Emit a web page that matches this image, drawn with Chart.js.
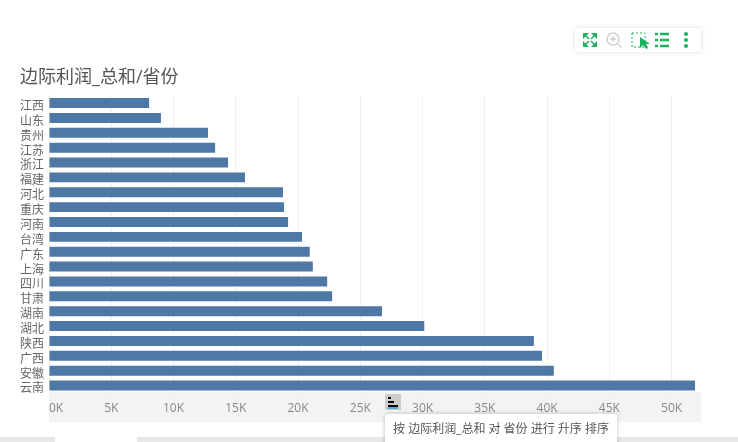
<!DOCTYPE html>
<html>
<head>
<meta charset="utf-8">
<script src="https://cdn.jsdelivr.net/npm/chart.js@4"></script>
<style>
	body { margin: 0; background: #fff; overflow: hidden; font-family: "Open Sans", "Noto Sans CJK SC", sans-serif; }
	#wrap { position: relative; width: 738px; height: 442px; overflow: hidden; }
	#myChart { position: absolute; left: 0; top: 0; }
	#toolbar { position: absolute; left: 575px; top: 28px; width: 126px; height: 24px; background: #fff; box-shadow: 0 0 5px rgba(0,0,0,0.15); }
	#toolbar svg { position: absolute; left: 0; top: 0; }
	.strip { position: absolute; top: 437px; height: 5px; background: #e8e8e8; }
	#sortIcon { position: absolute; left: 385px; top: 394px; width: 16px; height: 16px; background: #ccc; }
	#sortIcon i { position: absolute; left: 3px; height: 2px; background: #000; }
	#sortTip { position: absolute; left: 385px; top: 414px; width: 232px; height: 40px; background: #fff; border-radius: 3px; box-shadow: 0 0 4px rgba(0,0,0,0.25); font-size: 12px; color: #555; line-height: 30px; text-align: center; white-space: nowrap; }
</style>
</head>
<body>
<div id="wrap">
	<canvas id="myChart" width="738" height="442"></canvas>
	<div class="strip" style="left:0;width:55px"></div>
	<div class="strip" style="left:137px;width:601px"></div>
	<div id="toolbar">
		<svg width="126" height="24" viewBox="0 0 126 24">
			<g fill="none" stroke="#1db35e" stroke-width="1.500">
				<path d="M10.500 7.500l3.500 3.500M19.500 7.500l-3.500 3.500M10.500 16.500l3.500-3.500M19.500 16.500l-3.500-3.500"/>
			</g>
			<g fill="#1db35e">
				<path d="M8 5h6l-6 6zM22 5h-6l6 6zM8 19h6l-6-6zM22 19h-6l6-6z"/>
			</g>
			<rect x="57" y="5" width="13" height="14" fill="none" stroke="#1db35e" stroke-width="1" stroke-dasharray="2 2"/>
			<path d="M65 9l0 11 3-3 3 4 2-1-2-4 4 0z" fill="#1db35e"/>
			<path d="M80 6h3M85 6h9M80 12h3M85 12h9M80 18h3M85 18h9" fill="none" stroke="#1db35e" stroke-width="2.500"/>
			<g fill="#1db35e">
				<circle cx="111" cy="6" r="2"/><circle cx="111" cy="12" r="2"/><circle cx="111" cy="18" r="2"/>
			</g>
			<g fill="none" stroke="#d0d0d0" stroke-width="1.500">
				<circle cx="38" cy="11" r="6"/>
				<path d="M42.500 15.500l4 4M35 11h6M38 8v6"/>
			</g>
		</svg>
	</div>
	<div id="sortIcon">
		<i style="top:3px;width:3px"></i>
		<i style="top:7px;width:6px"></i>
		<i style="top:11px;width:10px"></i>
		<i style="top:13px;width:10px;background:#3ab7d8"></i>
	</div>
	<div id="sortTip">按 边际利润_总和 对 省份 进行 升序 排序</div>
</div>
<script>
const provinces = ['江西', '山东', '贵州', '江苏', '浙江', '福建', '河北', '重庆', '河南', '台湾', '广东', '上海', '四川', '甘肃', '湖南', '湖北', '陕西', '广西', '安徽', '云南'];
const marginTotals = [8040, 8990, 12770, 13340, 14380, 15740, 18790, 18880, 19200, 20320, 20940, 21190, 22340, 22740, 26740, 30140, 38940, 39590, 40540, 51880];
const axisMax = 52360;
const tickValues = [0, 5000, 10000, 15000, 20000, 25000, 30000, 35000, 40000, 45000, 50000];

const cjkFont = '"Open Sans", "Noto Sans CJK SC", sans-serif';

// Grey band behind the value axis
const axisBand = {
	id: 'axisBand',
	beforeDraw(chart) {
		const x = chart.scales.x;
		chart.ctx.save();
		chart.ctx.fillStyle = '#f3f3f3';
		chart.ctx.fillRect(x.left, x.top - 1, x.width, x.height + 1);
		chart.ctx.restore();
	}
};

const canvas = document.getElementById('myChart');

new Chart(canvas, {
	type: 'bar',
	data: {
		labels: provinces,
		datasets: [{
			label: '边际利润_总和',
			data: marginTotals,
			backgroundColor: '#4e79a7',
			barPercentage: 0.67,
			categoryPercentage: 1
		}]
	},
	options: {
		indexAxis: 'y',
		responsive: false,
		animation: false,
		layout: { padding: { left: 20, top: 67, right: 37, bottom: 20 } },
		scales: {
			x: {
				min: 0,
				max: axisMax,
				afterFit(scale) { scale.height = 29; },
				// last empty tick keeps "inner" alignment off the 50K label
				afterBuildTicks(scale) {
					scale.ticks = tickValues.concat(axisMax).map(v => ({ value: v }));
				},
				grid: {
					color: ctx => ctx.tick && ctx.tick.value === axisMax ? 'transparent' : '#efefef',
					drawTicks: false
				},
				border: { display: false },
				ticks: {
					autoSkip: false,
					maxRotation: 0,
					align: 'inner',
					padding: 8,
					color: '#888',
					font: { family: cjkFont, size: 12 },
					callback: v => tickValues.includes(v) ? (v / 1000) + 'K' : ''
				}
			},
			y: {
				afterFit(scale) { scale.width = 29; },
				grid: { display: false, drawTicks: false },
				border: { color: '#eee' },
				ticks: {
					autoSkip: false,
					padding: 5,
					labelOffset: 3.5,
					color: '#666',
					font: { family: cjkFont, size: 12 }
				}
			}
		},
		plugins: {
			legend: { display: false },
			tooltip: { enabled: false },
			title: {
				display: true,
				text: '边际利润_总和/省份',
				align: 'start',
				color: '#555',
				font: { family: cjkFont, size: 18, weight: 'normal' },
				padding: { top: 0, bottom: 7 }
			}
		}
	},
	plugins: [axisBand]
});
</script>
</body>
</html>
